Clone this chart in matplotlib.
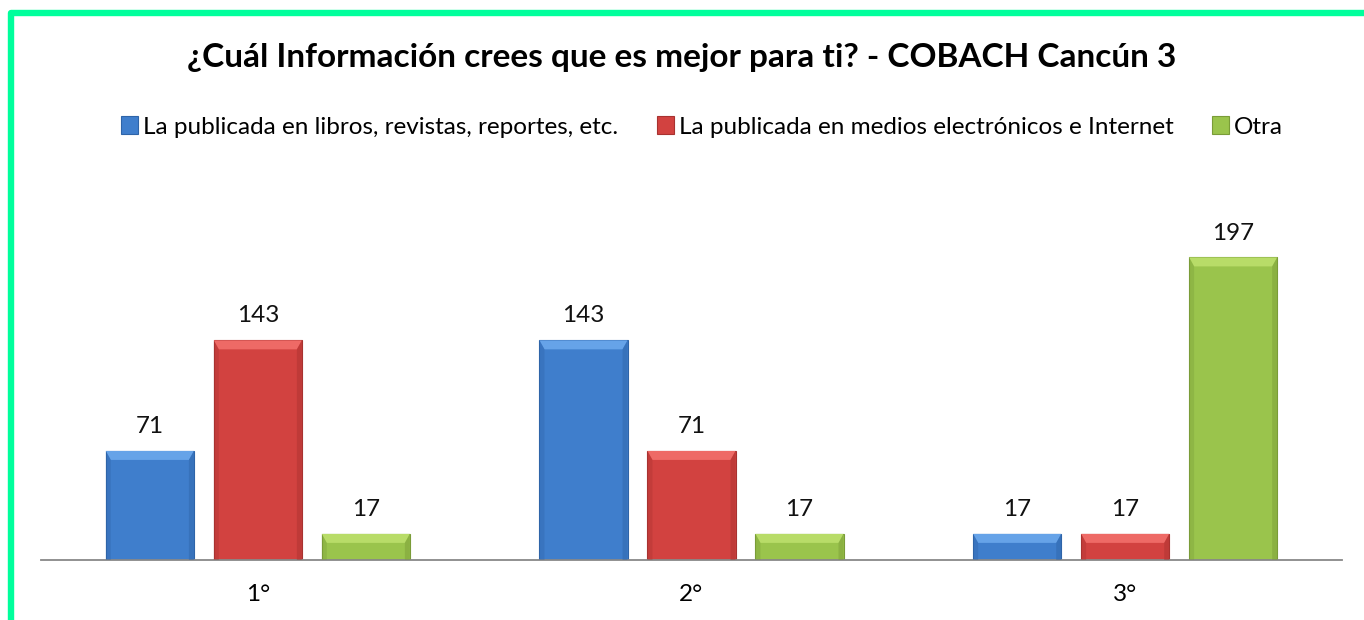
import matplotlib
matplotlib.use("Agg")
import matplotlib.pyplot as plt
from matplotlib.patches import Polygon, Rectangle
import numpy as np

categories = ["1°", "2°", "3°"]
series_names = ["La publicada en libros, revistas, reportes, etc.",
                "La publicada en medios electrónicos e Internet",
                "Otra"]
libros = [71, 143, 17]
electronicos = [143, 71, 17]
otra = [17, 17, 197]
title = "¿Cuál Información crees que es mejor para ti? - COBACH Cancún 3"

face_colors = ["#3F7ECC", "#D24240", "#9AC44C"]
light_colors = ["#66A3E8", "#EE6A66", "#B8DC68"]
dark_colors = ["#2E64A8", "#A83230", "#7A9C38"]

plt.rcParams['font.family'] = ['Lato', 'DejaVu Sans']

fig = plt.figure(figsize=(13.64, 6.2), dpi=100)
fig.patch.set_facecolor("white")

# green frame (left and top visible)
fig.add_artist(Rectangle((10.5/1364, -0.1), 1.2, (620-13.5)/620 + 0.1, transform=fig.transFigure,
                         fill=False, edgecolor="#00FF9C", linewidth=4.6, joinstyle="round"))

ax = fig.add_axes([41/1364, 60/620, 1301/1364, 384/620])
ax.set_xlim(-0.5, 2.5)
ax.set_ylim(0, 250)
for s in ["top", "right", "left"]:
    ax.spines[s].set_visible(False)
ax.spines["bottom"].set_color("#888888")
ax.spines["bottom"].set_linewidth(1.3)
ax.set_yticks([])
x = np.arange(len(categories))
ax.set_xticks(x)
ax.set_xticklabels(categories, fontsize=17.5)
ax.tick_params(axis="x", length=0, pad=17)

width = 0.203
step = 0.249
all_series = [libros, electronicos, otra]

fig.canvas.draw()
p0 = ax.transData.transform((0, 0))
p1 = ax.transData.transform((1, 1))
pxx = p1[0] - p0[0]
pxy = p1[1] - p0[1]
sx = 5 / pxx
tyb = 9 / pxy

handles = []
for i, vals in enumerate(all_series):
    bars = ax.bar(x + (i - 1) * step, vals, width, color=face_colors[i],
                  edgecolor=dark_colors[i], linewidth=0.8, zorder=2, label=series_names[i])
    handles.append(bars)
    for b, v in zip(bars, vals):
        x0, x1 = b.get_x(), b.get_x() + b.get_width()
        h = b.get_height()
        tb = min(tyb, h * 0.35)
        # top bevel
        ax.add_patch(Polygon([(x0, h), (x1, h), (x1 - sx, h - tb), (x0 + sx, h - tb)],
                             closed=True, facecolor=light_colors[i], edgecolor="none", zorder=3))
        # side bevels
        ax.add_patch(Polygon([(x0, 0), (x0, h), (x0 + sx, h - tb), (x0 + sx, 0)],
                             closed=True, facecolor=dark_colors[i], alpha=0.35, edgecolor="none", zorder=3))
        ax.add_patch(Polygon([(x1, 0), (x1, h), (x1 - sx, h - tb), (x1 - sx, 0)],
                             closed=True, facecolor=dark_colors[i], alpha=0.45, edgecolor="none", zorder=3))
        ax.annotate(str(v), (b.get_x() + b.get_width() / 2, h), xytext=(0, 10),
                    textcoords="offset points", ha="center", va="bottom", fontsize=17.5, color="#111111")

fig.text(0.5, 1 - 58/620, title, ha="center", va="center", fontsize=24, fontweight="bold", color="black")

leg = fig.legend(handles=handles, labels=series_names, loc="center",
                 bbox_to_anchor=(702/1364, 1 - 127/620),
                 ncol=3, frameon=False, fontsize=17.5, handlelength=0.7, handleheight=0.7,
                 handletextpad=0.2, columnspacing=1.6)

fig.savefig("out.png", dpi=100, facecolor="white")
